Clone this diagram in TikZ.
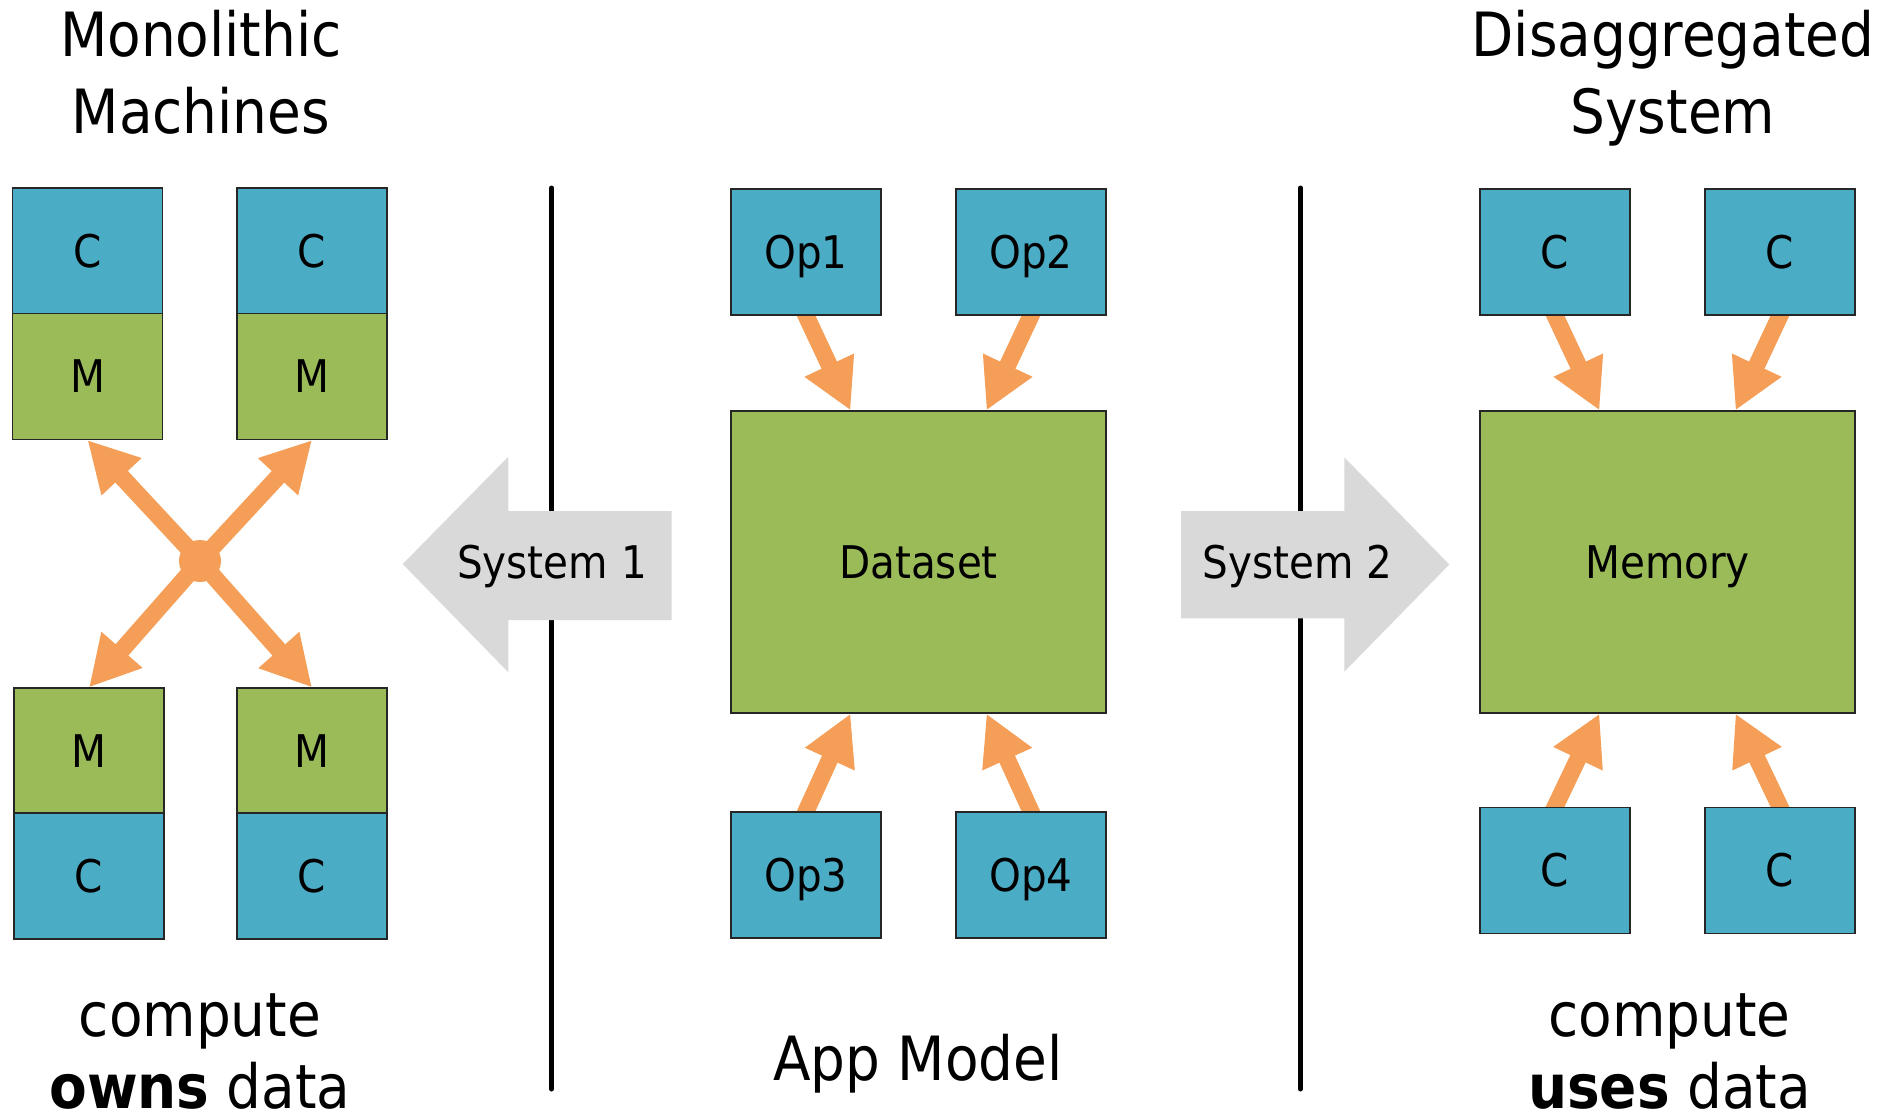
\documentclass[tikz,border=0pt]{standalone}
\usepackage{fontspec}
\setmainfont{DejaVu Sans Condensed}
\usetikzlibrary{arrows.meta,calc}
\definecolor{cblue}{HTML}{4BACC6}
\definecolor{mgreen}{HTML}{9BBB59}
\definecolor{flow}{HTML}{F59E58}
\definecolor{shade}{HTML}{D9D9D9}
\pgfdeclarelayer{bg}
\pgfsetlayers{bg,main}

\begin{document}
\begin{tikzpicture}[x=0.5pt,y=-0.5pt,
  unit/.style={draw=black!85, line width=0.6pt, inner sep=0pt,
    minimum width=75pt, minimum height=63pt,
    text height=16.4pt, text depth=0pt,
    font=\fontsize{22.5}{27}\selectfont},
  cpu/.style={unit, fill=cblue},
  mem/.style={unit, fill=mgreen},
  pool/.style={unit, fill=mgreen, minimum width=187.5pt, minimum height=151pt},
  flowarrow/.style={draw=flow, line width=8.5pt,
    -{Triangle[length=25pt,width=25.5pt]}},
  caption/.style={font=\fontsize{30.5}{38.4}\selectfont, align=center,
    anchor=base, inner sep=0pt},
  divider/.style={line width=2.5pt, line cap=round},
  sysarrow/.style={fill=shade},
  syslabel/.style={font=\fontsize{22.5}{27}\selectfont, anchor=base, inner sep=0pt}
]
\useasboundingbox (0,0) rectangle (1880,1115);

% ---------- column dividers ----------
\coordinate (d1top) at (551.5,188);
\coordinate (d1bot) at (551.5,1089);
\coordinate (d2top) at (1300.5,188);
\coordinate (d2bot) at (1300.5,1089);
\draw[divider] (d1top) -- (d1bot);
\draw[divider] (d2top) -- (d2bot);

% ---------- monolithic machines ----------
\node[cpu] (c1) at (87.5,251) {C};
\node[mem] (m1) at (87.5,376.5) {M};
\node[cpu] (c2) at (312,251) {C};
\node[mem] (m2) at (312,376.5) {M};
\node[mem] (m3) at (89,751) {M};
\node[cpu] (c3) at (89,876) {C};
\node[mem] (m4) at (312,751) {M};
\node[cpu] (c4) at (312,876) {C};
\node[circle, fill=flow, minimum size=21pt, inner sep=0pt] (hub) at (200,561) {};

% ---------- application model ----------
\node[cpu] (op1) at (806,252) {Op1};
\node[cpu] (op2) at (1031,252) {Op2};
\node[pool] (data) at (918.5,562) {Dataset};
\node[cpu] (op3) at (806,875) {Op3};
\node[cpu] (op4) at (1031,875) {Op4};

% ---------- disaggregated system ----------
\node[cpu] (r1) at (1555,252) {C};
\node[cpu] (r2) at (1780,252) {C};
\node[pool] (memory) at (1667.5,562) {Memory};
\node[cpu] (r3) at (1555,870.5) {C};
\node[cpu] (r4) at (1780,870.5) {C};

% ---------- arrow targets on the shared boxes ----------
\coordinate (dtl) at ($(data.north)+(-68,0)$);
\coordinate (dtr) at ($(data.north)+(68,0)$);
\coordinate (dbl) at ($(data.south)+(-68,0)$);
\coordinate (dbr) at ($(data.south)+(68,0)$);
\coordinate (mtl) at ($(memory.north)+(-68,0)$);
\coordinate (mtr) at ($(memory.north)+(68,0)$);
\coordinate (mbl) at ($(memory.south)+(-68,0)$);
\coordinate (mbr) at ($(memory.south)+(68,0)$);

\begin{pgfonlayer}{bg}
  % crossbar between machines
  \draw[flowarrow] (hub.center) -- (m1.south);
  \draw[flowarrow] (hub.center) -- (m2.south);
  \draw[flowarrow] (hub.center) -- (m3.north);
  \draw[flowarrow] (hub.center) -- (m4.north);
  % operators into the dataset
  \draw[flowarrow] ($(op1.south)!-8pt!(dtl)$) -- (dtl);
  \draw[flowarrow] ($(op2.south)!-8pt!(dtr)$) -- (dtr);
  \draw[flowarrow] ($(op3.north)!-8pt!(dbl)$) -- (dbl);
  \draw[flowarrow] ($(op4.north)!-8pt!(dbr)$) -- (dbr);
  % compute into the memory pool
  \draw[flowarrow] ($(r1.south)!-8pt!(mtl)$) -- (mtl);
  \draw[flowarrow] ($(r2.south)!-8pt!(mtr)$) -- (mtr);
  \draw[flowarrow] ($(r3.north)!-8pt!(mbl)$) -- (mbl);
  \draw[flowarrow] ($(r4.north)!-8pt!(mbr)$) -- (mbr);
\end{pgfonlayer}

% ---------- system block arrows ----------
\fill[sysarrow] (671.7,511) -- (508.3,511) -- (508.3,456.7) -- (402.7,564)
  -- (508.3,672.3) -- (508.3,620) -- (671.7,620) -- cycle;
\node[syslabel] (sys1) at (552,578.3) {System 1};
\fill[sysarrow] (1181,511) -- (1344.3,511) -- (1344.3,457.3) -- (1449.3,564.5)
  -- (1344.3,671.7) -- (1344.3,618.3) -- (1181,618.3) -- cycle;
\node[syslabel] (sys2) at (1297.5,578.3) {System 2};

% ---------- captions (anchored at the baseline of the last line) ----------
\node[caption] (tmono) at (201,133.3) {Monolithic\\Machines};
\node[caption] (tdis) at (1673,133.3) {Disaggregated\\System};
\node[caption, font=\fontsize{30.5}{36}\selectfont] (bmono) at (200,1108) {compute\\\textbf{owns} data};
\node[caption] (bapp) at (918,1080) {App Model};
\node[caption, font=\fontsize{30.5}{36}\selectfont] (bdis) at (1669.5,1108) {compute\\\textbf{uses} data};
\end{tikzpicture}
\end{document}
